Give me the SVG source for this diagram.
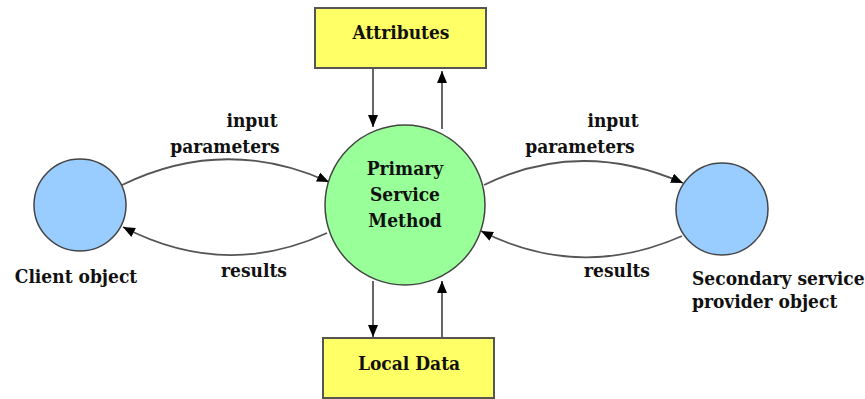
<svg xmlns="http://www.w3.org/2000/svg" width="865" height="399" viewBox="0 0 865 399">
  <style>
    .box { fill: #ffff66; stroke: #555; stroke-width: 2; }
    .obj { fill: #99ccff; stroke: #444; stroke-width: 1.5; }
    .svc { fill: #99ff99; stroke: #444; stroke-width: 1.5; }
    .lbl { font-family: 'DejaVu Serif Condensed', 'DejaVu Serif', serif; font-stretch: condensed; font-weight: 700; font-size: 19px; fill: #111; }
    .mid { text-anchor: middle; }
    .conn path, .conn line { fill: none; stroke: #555; stroke-width: 1.8; marker-end: url(#head); }
  </style>
  <defs>
    <marker id="head" viewBox="0 0 12 10" refX="12" refY="5" markerWidth="12" markerHeight="10" markerUnits="userSpaceOnUse" orient="auto">
      <path d="M0,0 L12,5 L0,10 Z" fill="#000"/>
    </marker>
  </defs>
  <rect width="865" height="399" fill="#fff"/>

  <g class="conn" id="connectors">
    <!-- attribute store links -->
    <line x1="373" y1="69" x2="373" y2="127"/>
    <line x1="442" y1="129" x2="442" y2="71"/>
    <!-- local data links -->
    <line x1="373" y1="281" x2="373" y2="337"/>
    <line x1="442" y1="337" x2="442" y2="281"/>
    <!-- client exchange -->
    <path d="M122,185 Q225,135 329,182"/>
    <path d="M327,233 Q225,280 123,227"/>
    <!-- secondary provider exchange -->
    <path d="M484,185 Q580,138 683,183"/>
    <path d="M682,236 Q580,281 481,231"/>
  </g>

  <g id="attributes">
    <rect class="box" x="315" y="8" width="171" height="60"/>
    <text class="lbl mid" x="401" y="39">Attributes</text>
  </g>

  <g id="local-data">
    <rect class="box" x="323" y="338" width="171" height="60"/>
    <text class="lbl mid" x="409" y="370">Local Data</text>
  </g>

  <g id="primary-service">
    <circle class="svc" cx="405" cy="205" r="80"/>
    <text class="lbl mid" x="405" y="175">Primary</text>
    <text class="lbl mid" x="405" y="201">Service</text>
    <text class="lbl mid" x="405" y="227">Method</text>
  </g>

  <g id="client">
    <circle class="obj" cx="80" cy="205" r="46"/>
    <text class="lbl mid" x="76" y="283">Client object</text>
  </g>

  <g id="secondary-provider">
    <circle class="obj" cx="722" cy="209" r="46"/>
    <text class="lbl" x="692" y="285">Secondary service</text>
    <text class="lbl" x="692" y="308">provider object</text>
  </g>

  <g id="labels">
    <text class="lbl mid" x="252" y="127">input</text>
    <text class="lbl mid" x="225" y="153">parameters</text>
    <text class="lbl mid" x="254" y="277">results</text>
    <text class="lbl mid" x="613" y="127">input</text>
    <text class="lbl mid" x="580" y="153">parameters</text>
    <text class="lbl mid" x="617" y="277">results</text>
  </g>
</svg>
